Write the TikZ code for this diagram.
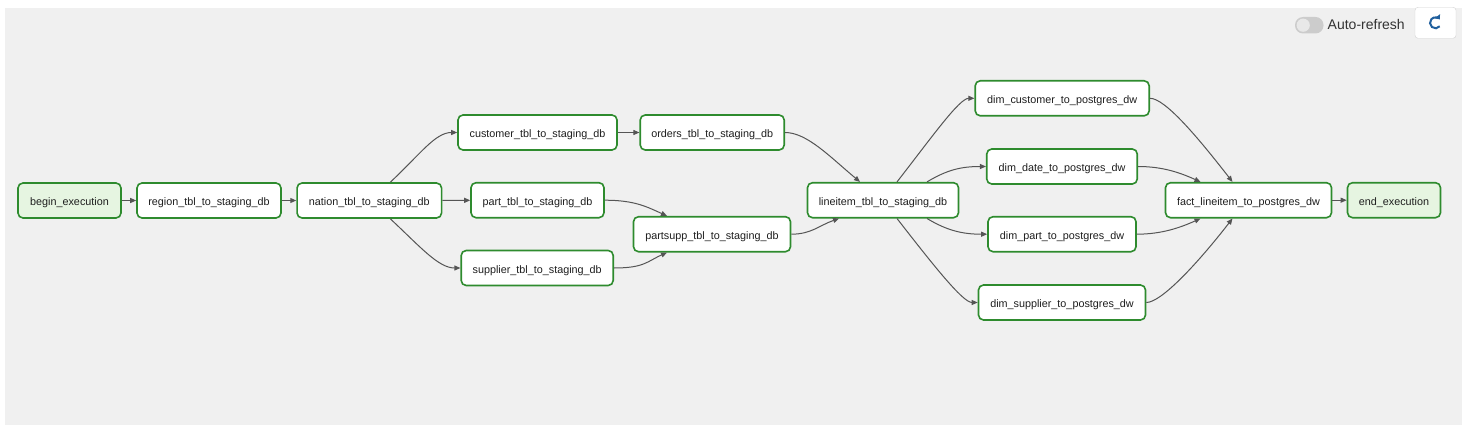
\documentclass[tikz,border=0pt]{standalone}
\usepackage{fontspec}
\setmainfont{Liberation Sans}
\usetikzlibrary{arrows.meta}
\definecolor{panelbg}{HTML}{F0F0F0}
\definecolor{okgreen}{HTML}{2E8B2E}
\definecolor{lightgreen}{HTML}{E6F5E1}
\definecolor{edgegray}{HTML}{555555}
\definecolor{txt}{HTML}{1E1E1E}
\definecolor{btnblue}{HTML}{21609E}
\tikzset{
  task/.style={draw=okgreen, line width=1.6pt, rounded corners=5pt, fill=white,
    minimum height=35pt, inner sep=0pt, text=txt, text height=10.4pt, text depth=0pt,
    font=\fontsize{10.8}{13}\selectfont},
  endpt/.style={task, fill=lightgreen},
  flow/.style={draw=edgegray, line width=1pt, -{Triangle[length=6pt,width=5pt]}},
}
\begin{document}
\begin{tikzpicture}[x=1pt,y=-1pt]
\useasboundingbox (0,0) rectangle (1462,425);
\fill[white] (0,0) rectangle (1462,425);
\fill[panelbg] (5,8) rectangle (1462,425);

% toolbar
\fill[fill=black!20, rounded corners=8pt] (1295,17) rectangle (1323.5,33.5);
\fill[black!9] (1303.2,25.2) circle (6.6pt);
\node[anchor=west, inner sep=0pt, text=black!80, font=\fontsize{14}{16}\selectfont] (autoref) at (1327.5,24) {Auto-refresh};
\node[draw=black!18, fill=white, rounded corners=3pt, minimum width=41pt, minimum height=31pt, inner sep=0pt] (refbtn) at (1435.5,22.8) {};
\draw[btnblue, line width=2pt, -{Triangle[length=4pt,width=6.5pt]}] ([shift={(-40:5.5pt)}]refbtn.center) arc[start angle=-40, end angle=-322, radius=5.5pt];

% nodes
\node[endpt, minimum width=103pt] (begin) at (69.5,200.5) {begin\_execution};
\node[task, minimum width=144pt] (region) at (209,200.5) {region\_tbl\_to\_staging\_db};
\node[task, minimum width=144.5pt] (nation) at (369.3,200.5) {nation\_tbl\_to\_staging\_db};
\node[task, minimum width=159pt] (customer) at (537.5,132.5) {customer\_tbl\_to\_staging\_db};
\node[task, minimum width=133pt] (part) at (537.5,200.2) {part\_tbl\_to\_staging\_db};
\node[task, minimum width=152pt] (supplier) at (537.2,268) {supplier\_tbl\_to\_staging\_db};
\node[task, minimum width=144pt] (orders) at (712.2,132.5) {orders\_tbl\_to\_staging\_db};
\node[task, minimum width=157pt] (partsupp) at (712,234.2) {partsupp\_tbl\_to\_staging\_db};
\node[task, minimum width=151pt] (lineitem) at (883,200.2) {lineitem\_tbl\_to\_staging\_db};
\node[task, minimum width=174pt] (dcust) at (1062.2,98.3) {dim\_customer\_to\_postgres\_dw};
\node[task, minimum width=150.5pt] (ddate) at (1062,166.5) {dim\_date\_to\_postgres\_dw};
\node[task, minimum width=148pt] (dpart) at (1062,234.2) {dim\_part\_to\_postgres\_dw};
\node[task, minimum width=167pt] (dsupp) at (1062,302.5) {dim\_supplier\_to\_postgres\_dw};
\node[task, minimum width=166pt] (fact) at (1248.5,200.2) {fact\_lineitem\_to\_postgres\_dw};
\node[endpt, minimum width=93pt] (endx) at (1394,200.2) {end\_execution};

% edges
\draw[flow] (begin) -- (region);
\draw[flow] (region) -- (nation);
\draw[flow] (nation) -- (part);
\draw[flow] (customer) -- (orders);
\draw[flow] (fact) -- (endx);

\draw[flow] ([xshift=21pt]nation.north) .. controls +(30,-28) and +(-22,0) .. (customer.west);
\draw[flow] ([xshift=21pt]nation.south) .. controls +(30,28) and +(-22,0) .. (supplier.west);
\draw[flow] (part.east) .. controls +(30,0) and +(-20,-9) .. ([xshift=-45pt]partsupp.north);
\draw[flow] (supplier.east) .. controls +(30,0) and +(-20,9) .. ([xshift=-45pt]partsupp.south);
\draw[flow] (orders.east) .. controls +(22,0) and +(-30,-25) .. ([xshift=-23pt]lineitem.north);
\draw[flow] (partsupp.east) .. controls +(20,0) and +(-20,7) .. ([xshift=-44pt]lineitem.south);

\draw[flow] ([xshift=14pt]lineitem.north) .. controls +(35,-45) and +(-15,0) .. (dcust.west);
\draw[flow] ([xshift=44pt]lineitem.north) .. controls +(20,-12) and +(-25,0) .. (ddate.west);
\draw[flow] ([xshift=44pt]lineitem.south) .. controls +(20,12) and +(-25,0) .. (dpart.west);
\draw[flow] ([xshift=14pt]lineitem.south) .. controls +(35,45) and +(-15,0) .. (dsupp.west);

\draw[flow] (dcust.east) .. controls +(15,0) and +(-35,-45) .. ([xshift=-16pt]fact.north);
\draw[flow] (ddate.east) .. controls +(25,0) and +(-20,-9) .. ([xshift=-48pt]fact.north);
\draw[flow] (dpart.east) .. controls +(25,0) and +(-20,9) .. ([xshift=-48pt]fact.south);
\draw[flow] (dsupp.east) .. controls +(15,0) and +(-35,45) .. ([xshift=-16pt]fact.south);
\end{tikzpicture}
\end{document}
